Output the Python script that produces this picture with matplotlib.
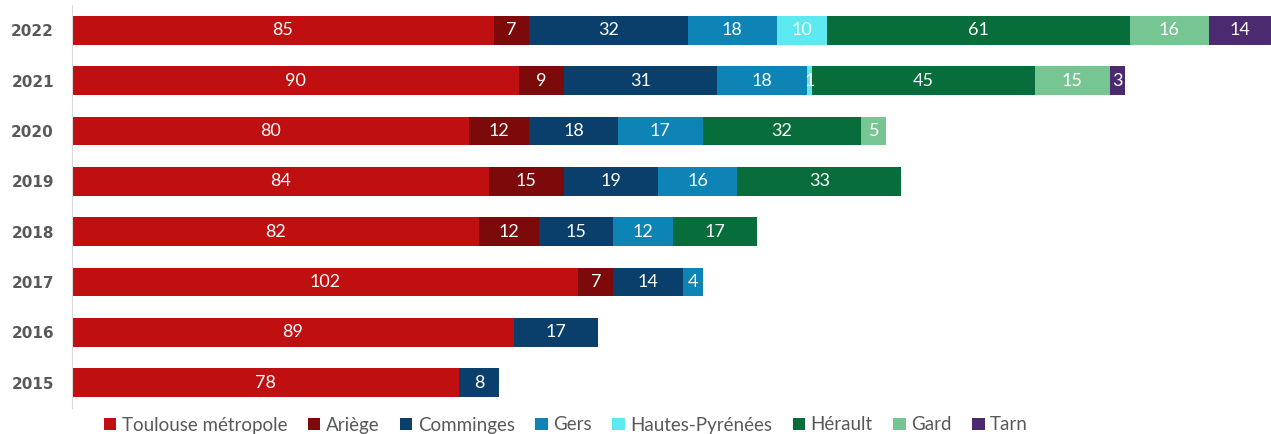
import numpy as np
import matplotlib.pyplot as plt

plt.rcParams['font.family'] = ['Lato', 'DejaVu Sans']

years = ["2022", "2021", "2020", "2019", "2018", "2017", "2016", "2015"]
regions = ["Toulouse métropole", "Ariège", "Comminges", "Gers",
           "Hautes-Pyrénées", "Hérault", "Gard", "Tarn"]
toulouse = [85, 90, 80, 84, 82, 102, 89, 78]
ariege = [7, 9, 12, 15, 12, 7, 0, 0]
comminges = [32, 31, 18, 19, 15, 14, 17, 8]
gers = [18, 18, 17, 16, 12, 4, 0, 0]
hautes_pyrenees = [10, 1, 0, 0, 0, 0, 0, 0]
herault = [61, 45, 32, 33, 17, 0, 0, 0]
gard = [16, 15, 5, 0, 0, 0, 0, 0]
tarn = [14, 3, 0, 0, 0, 0, 0, 0]

series = [toulouse, ariege, comminges, gers, hautes_pyrenees, herault, gard, tarn]
colors = ["#C00F10", "#7D0A0A", "#0B3F6B", "#0E83B5", "#5CEAF0",
          "#076D3B", "#78C594", "#4B2A70"]

fig = plt.figure(figsize=(12.71, 4.34), dpi=100)
ax = fig.add_axes([72 / 1271, 26 / 434, 1199 / 1271, 403 / 434])

y = np.arange(len(years))
left = np.zeros(len(years))
for name, vals, col in zip(regions, series, colors):
    vals = np.array(vals, dtype=float)
    bars = ax.barh(y, vals, left=left, height=0.57, color=col, label=name)
    labels = [f"{int(v)}" if v > 0 else "" for v in vals]
    ax.bar_label(bars, labels=labels, label_type='center', color='white', fontsize=13)
    left += vals

ax.set_ylim(len(years) - 0.5, -0.5)
ax.set_xlim(0, 241.5)
ax.set_yticks(y)
ax.set_yticklabels(years, fontsize=11, fontweight='bold', color='#595959',
                   family='DejaVu Sans')
ax.tick_params(axis='y', length=0, pad=13)
ax.set_xticks([])
for s in ['top', 'right', 'bottom']:
    ax.spines[s].set_visible(False)
ax.spines['left'].set_color('#D9D9D9')

fig.legend(loc='center', bbox_to_anchor=(566 / 1271, 1 - 425 / 434), ncol=8,
           frameon=False, fontsize=13.5, labelcolor='#595959',
           handlelength=0.65, handleheight=0.65, handletextpad=0.3, columnspacing=1.1)

fig.savefig("out.png", dpi=100)
